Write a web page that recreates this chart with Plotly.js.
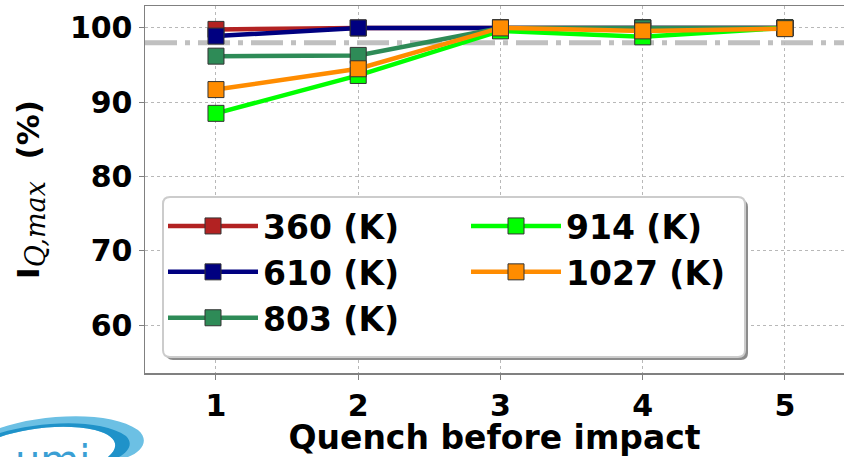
<!DOCTYPE html>
<html>
<head>
<meta charset="utf-8">
<script src="https://cdn.plot.ly/plotly-3.0.1.min.js"></script>
<style>
  html, body { margin: 0; padding: 0; background: #ffffff; }
  #chart { width: 844px; height: 457px; }
</style>
</head>
<body>
<div id="chart"></div>
<script>
// ---- data ----
var quench = [1, 2, 3, 4, 5];
var seriesNames = ['360 (K)', '610 (K)', '803 (K)', '914 (K)', '1027 (K)'];
var s360  = [99.8, 100, 100, 100, 100];
var s610  = [98.9, 100, 100, 100, 100];
var s803  = [96.2, 96.3, 100, 100, 100];
var s914  = [88.5, 93.6, 99.6, 98.8, 100];
var s1027 = [91.7, 94.5, 100, 99.6, 99.9];
var threshold = 98;
var xTickVals = [1, 2, 3, 4, 5];
var yTickVals = [60, 70, 80, 90, 100];

// ---- styles ----
var colors = ['#b22222', '#000080', '#2e8b57', '#00ff00', '#ff8c00'];
var ranks = [1, 3, 5, 2, 4]; // column-major legend order in a 2-column grid
var allSeries = [s360, s610, s803, s914, s1027];

var FONT = 'DejaVu Sans, Liberation Sans, sans-serif';

var traces = allSeries.map(function (vals, i) {
  return {
    type: 'scatter',
    mode: 'lines+markers',
    x: quench,
    y: vals,
    name: seriesNames[i],
    legendrank: ranks[i],
    line: { color: colors[i], width: 4.5 },
    marker: { symbol: 'square', size: 16, color: colors[i], line: { color: '#333333', width: 1 } },
    cliponaxis: false
  };
});

// pixel -> paper helpers (plot area spans L..R, T..B in page pixels)
var L = 145, R = 844, T = 6, B = 373;
function xp(px) { return (px - L) / (R - L); }
function yp(py) { return (B - py) / (B - T); }
function pt(px, py) { return xp(px).toFixed(5) + ',' + yp(py).toFixed(5); }

function roundRect(x0, y0, x1, y1, r) {
  return 'M ' + pt(x0 + r, y0) + ' L ' + pt(x1 - r, y0) + ' Q ' + pt(x1, y0) + ' ' + pt(x1, y0 + r) +
    ' L ' + pt(x1, y1 - r) + ' Q ' + pt(x1, y1) + ' ' + pt(x1 - r, y1) +
    ' L ' + pt(x0 + r, y1) + ' Q ' + pt(x0, y1) + ' ' + pt(x0, y1 - r) +
    ' L ' + pt(x0, y0 + r) + ' Q ' + pt(x0, y0) + ' ' + pt(x0 + r, y0) + ' Z';
}

var logoOuter = 'M ' + pt(0, 428) + ' C ' + pt(40, 414) + ' ' + pt(110, 410) + ' ' + pt(138, 430) +
  ' C ' + pt(150, 440) + ' ' + pt(142, 452) + ' ' + pt(128, 457) + ' L ' + pt(108, 457) +
  ' C ' + pt(120, 447) + ' ' + pt(118, 436) + ' ' + pt(95, 430) +
  ' C ' + pt(65, 423) + ' ' + pt(25, 428) + ' ' + pt(0, 437) + ' Z';
var logoInner = 'M ' + pt(0, 433) + ' C ' + pt(40, 421) + ' ' + pt(100, 418) + ' ' + pt(126, 436) +
  ' C ' + pt(134, 444) + ' ' + pt(128, 452) + ' ' + pt(119, 457) + ' L ' + pt(108, 457) +
  ' C ' + pt(120, 447) + ' ' + pt(118, 436) + ' ' + pt(95, 430) +
  ' C ' + pt(65, 423) + ' ' + pt(25, 428) + ' ' + pt(0, 437) + ' Z';

var layout = {
  width: 844,
  height: 457,
  margin: { l: 145, r: 0, t: 6, b: 84 },
  paper_bgcolor: '#ffffff',
  plot_bgcolor: '#ffffff',
  showlegend: true,
  font: { family: FONT, color: '#000000' },
  xaxis: {
    range: [0.501, 5.415],
    tickvals: xTickVals,
    ticktext: xTickVals.map(String),
    tickfont: { family: FONT, size: 30, weight: 'bold', color: '#000' },
    ticks: 'outside', ticklen: 5, tickcolor: '#808080', tickwidth: 1,
    showline: true, linecolor: '#808080', linewidth: 1.5, mirror: true,
    showgrid: true, gridcolor: '#b8b8b8', gridwidth: 1, griddash: 'dot',
    zeroline: false,
    title: { text: 'Quench before impact', font: { family: FONT, size: 33, weight: 'bold', color: '#000' }, standoff: 14 }
  },
  yaxis: {
    range: [53.55, 102.95],
    tickvals: yTickVals,
    ticktext: yTickVals.map(String),
    tickfont: { family: FONT, size: 30, weight: 'bold', color: '#000' },
    ticks: 'outside', ticklen: 5, tickcolor: '#808080', tickwidth: 1,
    showline: true, linecolor: '#808080', linewidth: 1.5, mirror: false,
    showgrid: true, gridcolor: '#b8b8b8', gridwidth: 1, griddash: 'dot',
    zeroline: false,
    title: {
      text: 'I<sub><span style="font-family:DejaVu Serif;font-style:italic;font-weight:normal;font-size:27px">Q,max</span></sub> \u00a0(%)',
      font: { family: FONT, size: 31, weight: 'bold', color: '#000' },
      standoff: 21
    }
  },
  legend: {
    orientation: 'h',
    x: xp(163), xanchor: 'left',
    y: yp(198), yanchor: 'top',
    entrywidth: 198, entrywidthmode: 'pixels',
    itemwidth: 90,
    traceorder: 'normal',
    bgcolor: 'rgba(0,0,0,0)',
    borderwidth: 0,
    font: { family: FONT, size: 33, weight: 'bold', color: '#000' }
  },
  shapes: [
    {
      type: 'line', xref: 'paper', yref: 'y',
      x0: 0, x1: 1, y0: threshold, y1: threshold,
      line: { color: '#c0c0c0', width: 5, dash: '32px,8px,5px,8px' },
      layer: 'below'
    },
    // legend frame: shadow + rounded white box
    {
      type: 'path', xref: 'paper', yref: 'paper',
      path: roundRect(166, 200, 748, 360, 7),
      fillcolor: '#8c8c8c', line: { width: 0 }, layer: 'above'
    },
    {
      type: 'path', xref: 'paper', yref: 'paper',
      path: roundRect(163, 197, 745, 357, 7),
      fillcolor: '#ffffff', line: { color: '#cccccc', width: 2 }, layer: 'above'
    },
    // partial logo at the bottom-left corner
    {
      type: 'path', xref: 'paper', yref: 'paper',
      path: logoOuter,
      fillcolor: '#6cc0e4', line: { width: 0 }, layer: 'above'
    },
    {
      type: 'path', xref: 'paper', yref: 'paper',
      path: logoInner,
      fillcolor: '#1f92c9', line: { width: 0 }, layer: 'above'
    }
  ],
  annotations: [
    {
      xref: 'paper', yref: 'paper', x: xp(52), y: yp(460), xanchor: 'center', yanchor: 'middle',
      text: 'umi', showarrow: false,
      font: { family: 'DejaVu Sans, sans-serif', size: 40, color: '#3a9fd4', weight: 'normal' }
    }
  ]
};

Plotly.newPlot('chart', traces, layout, { displayModeBar: false, staticPlot: true });
</script>
</body>
</html>
